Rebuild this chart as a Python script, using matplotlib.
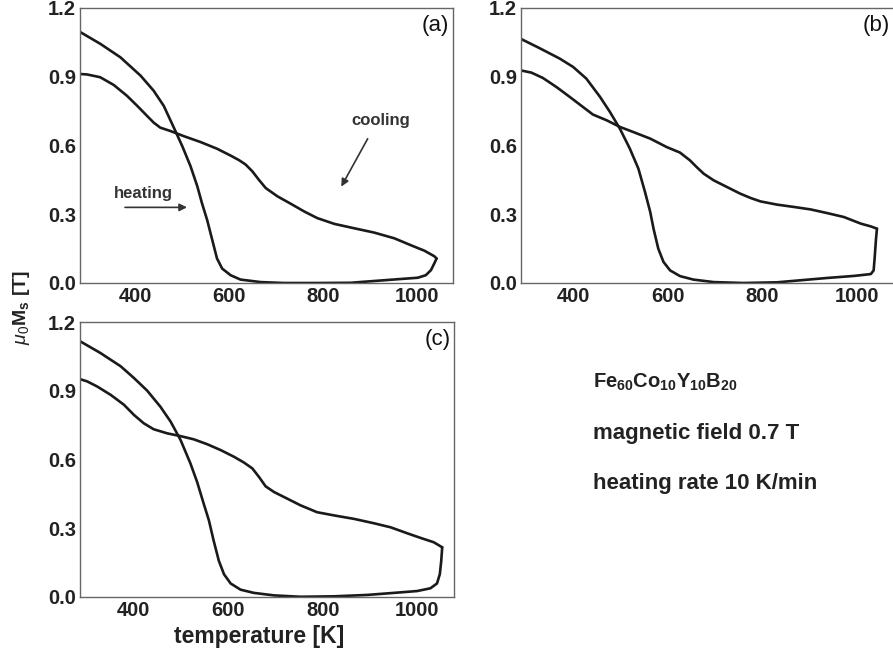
import matplotlib
matplotlib.use("Agg")
import matplotlib.pyplot as plt

plt.rcParams['font.family'] = ['Liberation Sans', 'DejaVu Sans']
plt.rcParams['mathtext.fontset'] = 'custom'
plt.rcParams['mathtext.rm'] = 'Liberation Sans'
plt.rcParams['mathtext.bf'] = 'Liberation Sans:bold'
plt.rcParams['mathtext.it'] = 'Liberation Sans:italic'

# ---------------- data ----------------
# panel (a)
a_heat_T = [282.5, 325, 368, 411, 439, 460.5, 482, 500, 517.5, 532, 542, 553, 564, 574, 585, 603, 624, 667,
            717, 788, 859, 930, 1002, 1019, 1030, 1037, 1042]
a_heat_M = [1.095, 1.044, 0.985, 0.905, 0.839, 0.773, 0.678, 0.597, 0.510, 0.422, 0.348, 0.275, 0.187, 0.107,
            0.063, 0.034, 0.015, 0.004, 0.0, 0.0, 0.001, 0.012, 0.023, 0.034, 0.056, 0.085, 0.107]
a_cool_T = [1042, 1037, 1016, 987, 952, 909, 866, 824, 788, 760, 731, 703, 678, 663, 649, 635, 621, 603, 574,
            539, 503, 475, 453, 439, 425, 404, 382, 354, 325, 297, 282.5]
a_cool_M = [0.107, 0.117, 0.141, 0.165, 0.195, 0.220, 0.239, 0.258, 0.283, 0.312, 0.346, 0.378, 0.414, 0.451,
            0.488, 0.517, 0.536, 0.556, 0.586, 0.615, 0.641, 0.663, 0.678, 0.700, 0.729, 0.773, 0.817, 0.864,
            0.898, 0.910, 0.912]

# panel (b)
b_heat_T = [289, 329, 372, 400, 428, 457, 478, 499, 520, 538, 552, 563, 570, 580, 591, 605, 626, 654, 697,
            760, 831, 881, 937, 994, 1029, 1035, 1037, 1040, 1042]
b_heat_M = [1.066, 1.025, 0.979, 0.943, 0.892, 0.812, 0.746, 0.673, 0.586, 0.499, 0.397, 0.310, 0.237, 0.150,
            0.092, 0.055, 0.030, 0.015, 0.004, 0.0, 0.003, 0.012, 0.022, 0.031, 0.039, 0.055, 0.106, 0.193, 0.237]
b_cool_T = [1042, 1029, 1008, 972, 937, 902, 866, 831, 796, 775, 753, 725, 697, 676, 661, 647, 626, 598, 563,
            527, 499, 471, 442, 421, 393, 365, 336, 312, 289]
b_cool_M = [0.237, 0.247, 0.259, 0.288, 0.305, 0.321, 0.332, 0.342, 0.356, 0.371, 0.390, 0.419, 0.448, 0.477,
            0.506, 0.535, 0.569, 0.593, 0.630, 0.659, 0.681, 0.710, 0.735, 0.768, 0.812, 0.855, 0.895, 0.918,
            0.928]

# panel (c)
c_heat_T = [287, 329, 372, 400, 428, 456, 478, 499, 520, 534, 548, 559, 569, 580, 591, 605, 626, 654, 697,
            753, 824, 894, 951, 1000, 1028, 1042, 1048, 1051, 1053]
c_heat_M = [1.115, 1.065, 1.007, 0.956, 0.901, 0.831, 0.765, 0.685, 0.582, 0.502, 0.407, 0.334, 0.246, 0.158,
            0.099, 0.059, 0.032, 0.018, 0.007, 0.001, 0.003, 0.009, 0.018, 0.026, 0.038, 0.059, 0.100, 0.158,
            0.217]
c_cool_T = [1053, 1035, 1007, 979, 944, 908, 866, 824, 788, 753, 725, 697, 679, 665, 651, 633, 612, 584, 555,
            527, 499, 471, 442, 421, 400, 379, 351, 322, 301, 287]
c_cool_M = [0.217, 0.239, 0.258, 0.278, 0.304, 0.322, 0.341, 0.356, 0.370, 0.400, 0.429, 0.458, 0.483, 0.524,
            0.561, 0.587, 0.612, 0.641, 0.667, 0.688, 0.702, 0.714, 0.732, 0.758, 0.795, 0.839, 0.882, 0.919,
            0.941, 0.950]

x_ticks = [400, 600, 800, 1000]
y_ticks = [0.0, 0.3, 0.6, 0.9, 1.2]
panel_labels = ['(a)', '(b)', '(c)']

W, H = 893, 661
fig = plt.figure(figsize=(W / 100, H / 100), dpi=100)


def make_ax(left, top, right, bottom, xlim):
    ax = fig.add_axes([left / W, 1 - bottom / H, (right - left) / W, (bottom - top) / H])
    ax.set_xlim(*xlim)
    ax.set_ylim(0, 1.2)
    ax.set_xticks(x_ticks)
    ax.set_yticks(y_ticks)
    ax.set_yticklabels([f"{v:.1f}" for v in y_ticks])
    ax.tick_params(length=0, pad=3, labelsize=14.5, colors='#222222')
    for lab in ax.get_xticklabels() + ax.get_yticklabels():
        lab.set_fontweight('bold')
    for s in ax.spines.values():
        s.set_color('#666666')
        s.set_linewidth(1.0)
    return ax


axes = [
    make_ax(80, 8, 453, 283, (282, 1077)),
    make_ax(521, 8, 894, 283, (290, 1078)),
    make_ax(80, 322, 454, 597, (286, 1078)),
]
data = [
    (a_heat_T, a_heat_M, a_cool_T, a_cool_M),
    (b_heat_T, b_heat_M, b_cool_T, b_cool_M),
    (c_heat_T, c_heat_M, c_cool_T, c_cool_M),
]
for ax, (hT, hM, cT, cM), lab in zip(axes, data, panel_labels):
    ax.plot(hT, hM, color='#1a1a1a', lw=1.9, solid_joinstyle='round', solid_capstyle='round')
    ax.plot(cT, cM, color='#1a1a1a', lw=1.9, solid_joinstyle='round', solid_capstyle='round')
    ax.text(0.99, 0.975, lab, transform=ax.transAxes, ha='right', va='top',
            fontsize=16, color='#111111')

# annotations in panel (a)
axa = axes[0]
axa.text(418, 0.39, 'heating', fontsize=12, fontweight='bold', ha='center', va='center', color='#333333')
axa.annotate('', xy=(516, 0.33), xytext=(372, 0.33),
             arrowprops=dict(arrowstyle='-|>', color='#333333', lw=1.2, mutation_scale=11))
axa.text(922, 0.71, 'cooling', fontsize=12, fontweight='bold', ha='center', va='center', color='#333333')
axa.annotate('', xy=(836, 0.41), xytext=(898, 0.64),
             arrowprops=dict(arrowstyle='-|>', color='#333333', lw=1.2, mutation_scale=11))

# x label
fig.text(259 / W, 1 - 637 / H, 'temperature [K]', fontsize=16.5, fontweight='bold',
         ha='center', va='center', color='#222222')
# y label
fig.text(21 / W, 1 - 308 / H, r'$\mu_0\mathbf{M_s}$ [T]', fontsize=14, fontweight='bold',
         rotation=90, ha='center', va='center', color='#222222')

# info text
fig.text(593 / W, 1 - 382 / H, r'$\mathbf{Fe_{60}Co_{10}Y_{10}B_{20}}$', fontsize=14.5,
         ha='left', va='center', color='#222222')
fig.text(593 / W, 1 - 433 / H, 'magnetic field 0.7 T', fontsize=16, fontweight='bold',
         ha='left', va='center', color='#222222')
fig.text(593 / W, 1 - 484 / H, 'heating rate 10 K/min', fontsize=16, fontweight='bold',
         ha='left', va='center', color='#222222')

fig.savefig('out.png', dpi=100)
